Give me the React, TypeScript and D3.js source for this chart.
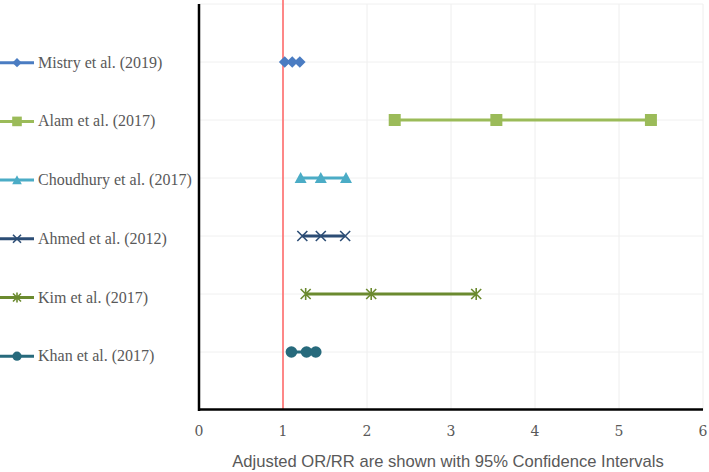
import React from "react";
import * as d3 from "d3";

const studies = ["Mistry et al. (2019)", "Alam et al. (2017)", "Choudhury et al. (2017)", "Ahmed et al. (2012)", "Kim et al. (2017)", "Khan et al. (2017)"];
const lower = [1.02, 2.33, 1.21, 1.23, 1.27, 1.10];
const estimate = [1.11, 3.54, 1.45, 1.45, 2.05, 1.28];
const upper = [1.20, 5.38, 1.75, 1.74, 3.30, 1.39];
const colors = ["#4A7CC2", "#9BBB59", "#4BACC6", "#2C4D75", "#6B8A2F", "#276A7C"];
const markers = ["diamond", "square", "triangle", "x", "star", "circle"];
const xTicks = [0, 1, 2, 3, 4, 5, 6];
const axisTitle = "Adjusted OR/RR are shown with 95% Confidence Intervals";

const W = 709, H = 472;

function Marker({ type, x, y, color, scale = 1 }: { type: string; x: number; y: number; color: string; scale?: number }) {
  if (type === "diamond") {
    const s = 5.8 * scale;
    return <path d={`M${x},${y - s}L${x + s},${y}L${x},${y + s}L${x - s},${y}Z`} fill={color} />;
  }
  if (type === "square") {
    const s = 6 * scale;
    return <rect x={x - s} y={y - s} width={2 * s} height={2 * s} fill={color} />;
  }
  if (type === "triangle") {
    const s = 6 * scale;
    return <path d={`M${x},${y - s}L${x + s},${y + s * 0.85}L${x - s},${y + s * 0.85}Z`} fill={color} />;
  }
  if (type === "x") {
    const s = 5 * scale;
    return <path d={`M${x - s},${y - s}L${x + s},${y + s}M${x + s},${y - s}L${x - s},${y + s}`} stroke={color} strokeWidth={1.6} fill="none" />;
  }
  if (type === "star") {
    const s = 5 * scale;
    return (
      <path
        d={`M${x - s},${y - s}L${x + s},${y + s}M${x + s},${y - s}L${x - s},${y + s}M${x},${y - s - 1}L${x},${y + s + 1}`}
        stroke={color}
        strokeWidth={1.6}
        fill="none"
      />
    );
  }
  return <circle cx={x} cy={y} r={5.8 * scale} fill={color} />;
}

export default function App() {
  const x = d3.scaleLinear().domain([0, 6]).range([199, 703]);
  const y = d3.scaleLinear().domain([0, 7]).range([4, 410]);
  const legendY = (i: number) => 62.7 + 58.7 * i;

  return (
    <svg width={W} height={H} style={{ position: "absolute", left: 0, top: 0, background: "#fff" }}>
      {/* gridlines */}
      {xTicks.slice(1).map((t) => (
        <line key={"vg" + t} x1={x(t)} x2={x(t)} y1={y(0)} y2={y(7)} stroke="#eeeeee" strokeWidth={1} />
      ))}
      {d3.range(0, 7).map((i) => (
        <line key={"hg" + i} x1={x(0)} x2={x(6)} y1={y(i)} y2={y(i)} stroke="#f0f0f0" strokeWidth={1} />
      ))}
      {/* reference line */}
      <line x1={x(1)} x2={x(1)} y1={0} y2={y(7)} stroke="#FF6B6B" strokeWidth={1.6} />
      {/* axes */}
      <line x1={x(0)} x2={x(0)} y1={y(0)} y2={y(7) + 1} stroke="#000" strokeWidth={2.5} />
      <line x1={x(0) - 1} x2={x(6)} y1={y(7) - 0.5} y2={y(7) - 0.5} stroke="#000" strokeWidth={2.5} />
      {/* tick labels */}
      {xTicks.map((t) => (
        <text key={"t" + t} x={x(t)} y={436} textAnchor="middle" fontFamily="'DejaVu Serif', serif" fontSize={14} fill="#595959">
          {t}
        </text>
      ))}
      <text x={448} y={467} textAnchor="middle" fontFamily="'Liberation Sans', Arial, sans-serif" fontSize={16.6} fill="#595959">
        {axisTitle}
      </text>
      {/* series */}
      {studies.map((s, i) => {
        const yy = y(i + 1);
        return (
          <g key={s}>
            <line x1={x(lower[i])} x2={x(upper[i])} y1={yy} y2={yy} stroke={colors[i]} strokeWidth={3} />
            {[lower[i], estimate[i], upper[i]].map((v, j) => (
              <Marker key={j} type={markers[i]} x={x(v)} y={yy} color={colors[i]} />
            ))}
          </g>
        );
      })}
      {/* legend */}
      {studies.map((s, i) => {
        const ly = legendY(i);
        return (
          <g key={"lg" + s}>
            <line x1={0} x2={34} y1={ly} y2={ly} stroke={colors[i]} strokeWidth={3} />
            <Marker type={markers[i]} x={17} y={ly} color={colors[i]} scale={0.8} />
            <text x={38} y={ly + 5} fontFamily="'Liberation Serif', serif" fontSize={16} fill="#595959">
              {s}
            </text>
          </g>
        );
      })}
    </svg>
  );
}
